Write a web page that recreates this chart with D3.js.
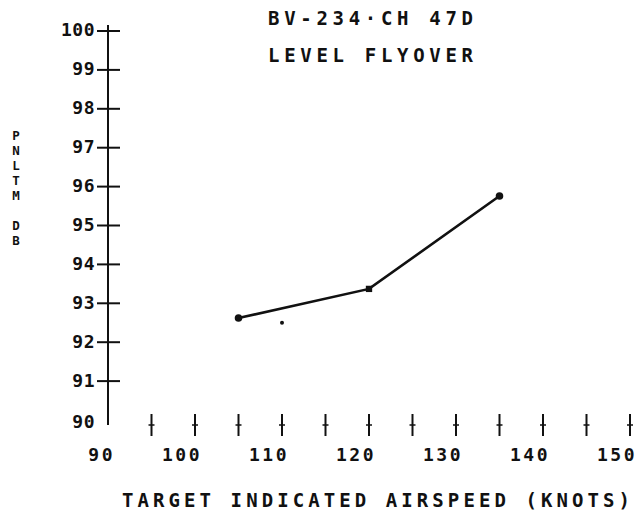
<!DOCTYPE html>
<html>
<head>
<meta charset="utf-8">
<script src="https://cdn.jsdelivr.net/npm/d3@7"></script>
<style>
  html, body { margin: 0; padding: 0; background: #fff; }
  svg { display: block; }
  text { font-family: "DejaVu Sans Mono", "Liberation Mono", monospace; fill: #111; font-weight: bold; }
</style>
</head>
<body>
<svg id="chart" width="644" height="515"></svg>
<script>
// ---- data ----
const titleLines = ["BV-234·CH 47D", "LEVEL FLYOVER"];
const xTitle = "TARGET INDICATED AIRSPEED (KNOTS)";
const yTitleLetters = ["P", "N", "L", "T", "M", "D", "B"];
const yTitleSlots = [0, 1, 2, 3, 4, 6, 7];
const airspeed = [105, 120, 135];
const pnltm = [92.62, 93.37, 95.76];
const markerShapes = ["circle", "square", "circle"];
const strayAirspeed = [110];
const strayPnltm = [92.5];
const xTickValues = [95, 100, 105, 110, 115, 120, 125, 130, 135, 140, 145, 150];
const xTickLabels = [90, 100, 110, 120, 130, 140, 150];
const yTickValues = [91, 92, 93, 94, 95, 96, 97, 98, 99, 100];
const yTickLabels = [90, 91, 92, 93, 94, 95, 96, 97, 98, 99, 100];

// ---- chart ----
const svg = d3.select("#chart");
const x = d3.scaleLinear().domain([90, 150]).range([108, 630]);
const y = d3.scaleLinear().domain([90, 100]).range([420, 31]);
const ink = "#111";

// title
svg.selectAll("text.title").data(titleLines).join("text")
  .attr("class", "title")
  .attr("x", 268).attr("y", (d, i) => 18 + i * 37)
  .attr("dy", "0.36em")
  .attr("font-size", 19)
  .attr("textLength", 205).attr("lengthAdjust", "spacing")
  .text(d => d);

// y axis line
svg.append("line")
  .attr("x1", x(90)).attr("x2", x(90))
  .attr("y1", y(100) - 6).attr("y2", y(90) + 5)
  .attr("stroke", ink).attr("stroke-width", 2);

// y tick crosses
svg.selectAll("line.ytick").data(yTickValues).join("line")
  .attr("class", "ytick")
  .attr("x1", x(90) - 11).attr("x2", x(90) + 12)
  .attr("y1", d => y(d)).attr("y2", d => y(d))
  .attr("stroke", ink).attr("stroke-width", 2);

// y tick labels
svg.selectAll("text.ylab").data(yTickLabels).join("text")
  .attr("class", "ylab")
  .attr("x", x(90) - 13).attr("y", d => y(d) - (d === 90 ? -2 : 1))
  .attr("dy", "0.36em")
  .attr("text-anchor", "end")
  .attr("font-size", 18)
  .attr("letter-spacing", 0.5)
  .text(d => d);

// x tick marks (plotter style, no axis line)
const xt = svg.selectAll("g.xtick").data(xTickValues).join("g")
  .attr("class", "xtick")
  .attr("transform", d => `translate(${x(d)},425)`);
xt.append("line").attr("y1", -11).attr("y2", 11)
  .attr("stroke", ink).attr("stroke-width", 2);
xt.append("line").attr("x1", -3).attr("x2", 3)
  .attr("stroke", ink).attr("stroke-width", 1.5);

// x tick labels
svg.selectAll("text.xlab").data(xTickLabels).join("text")
  .attr("class", "xlab")
  .attr("x", d => x(d) + 7).attr("y", 455)
  .attr("dy", "0.36em")
  .attr("text-anchor", "end")
  .attr("font-size", 18)
  .attr("letter-spacing", 2.5)
  .text(d => d);

// x title
svg.append("text")
  .attr("x", 122).attr("y", 500).attr("dy", "0.36em")
  .attr("font-size", 19)
  .attr("textLength", 508).attr("lengthAdjust", "spacing")
  .text(xTitle);

// y title (stacked letters)
svg.selectAll("text.ytitle").data(yTitleLetters).join("text")
  .attr("class", "ytitle")
  .attr("x", 16).attr("y", (d, i) => 135 + yTitleSlots[i] * 15)
  .attr("dy", "0.36em")
  .attr("text-anchor", "middle")
  .attr("font-size", 12.5)
  .text(d => d);

// data line
const pts = airspeed.map((s, i) => ({ s, v: pnltm[i], shape: markerShapes[i] }));
svg.append("path")
  .datum(pts)
  .attr("fill", "none").attr("stroke", ink).attr("stroke-width", 2.6)
  .attr("d", d3.line().x(d => x(d.s)).y(d => y(d.v)));

// markers
svg.selectAll("path.mk").data(pts).join("path")
  .attr("class", "mk")
  .attr("transform", d => `translate(${x(d.s)},${y(d.v)})`)
  .attr("d", d => d3.symbol().type(d.shape === "square" ? d3.symbolSquare : d3.symbolCircle)
    .size(d.shape === "square" ? 40 : 45)())
  .attr("fill", ink);

// stray point
svg.selectAll("circle.stray").data(strayAirspeed.map((s, i) => ({ s, v: strayPnltm[i] }))).join("circle")
  .attr("class", "stray")
  .attr("cx", d => x(d.s)).attr("cy", d => y(d.v)).attr("r", 2)
  .attr("fill", ink);
</script>
</body>
</html>
